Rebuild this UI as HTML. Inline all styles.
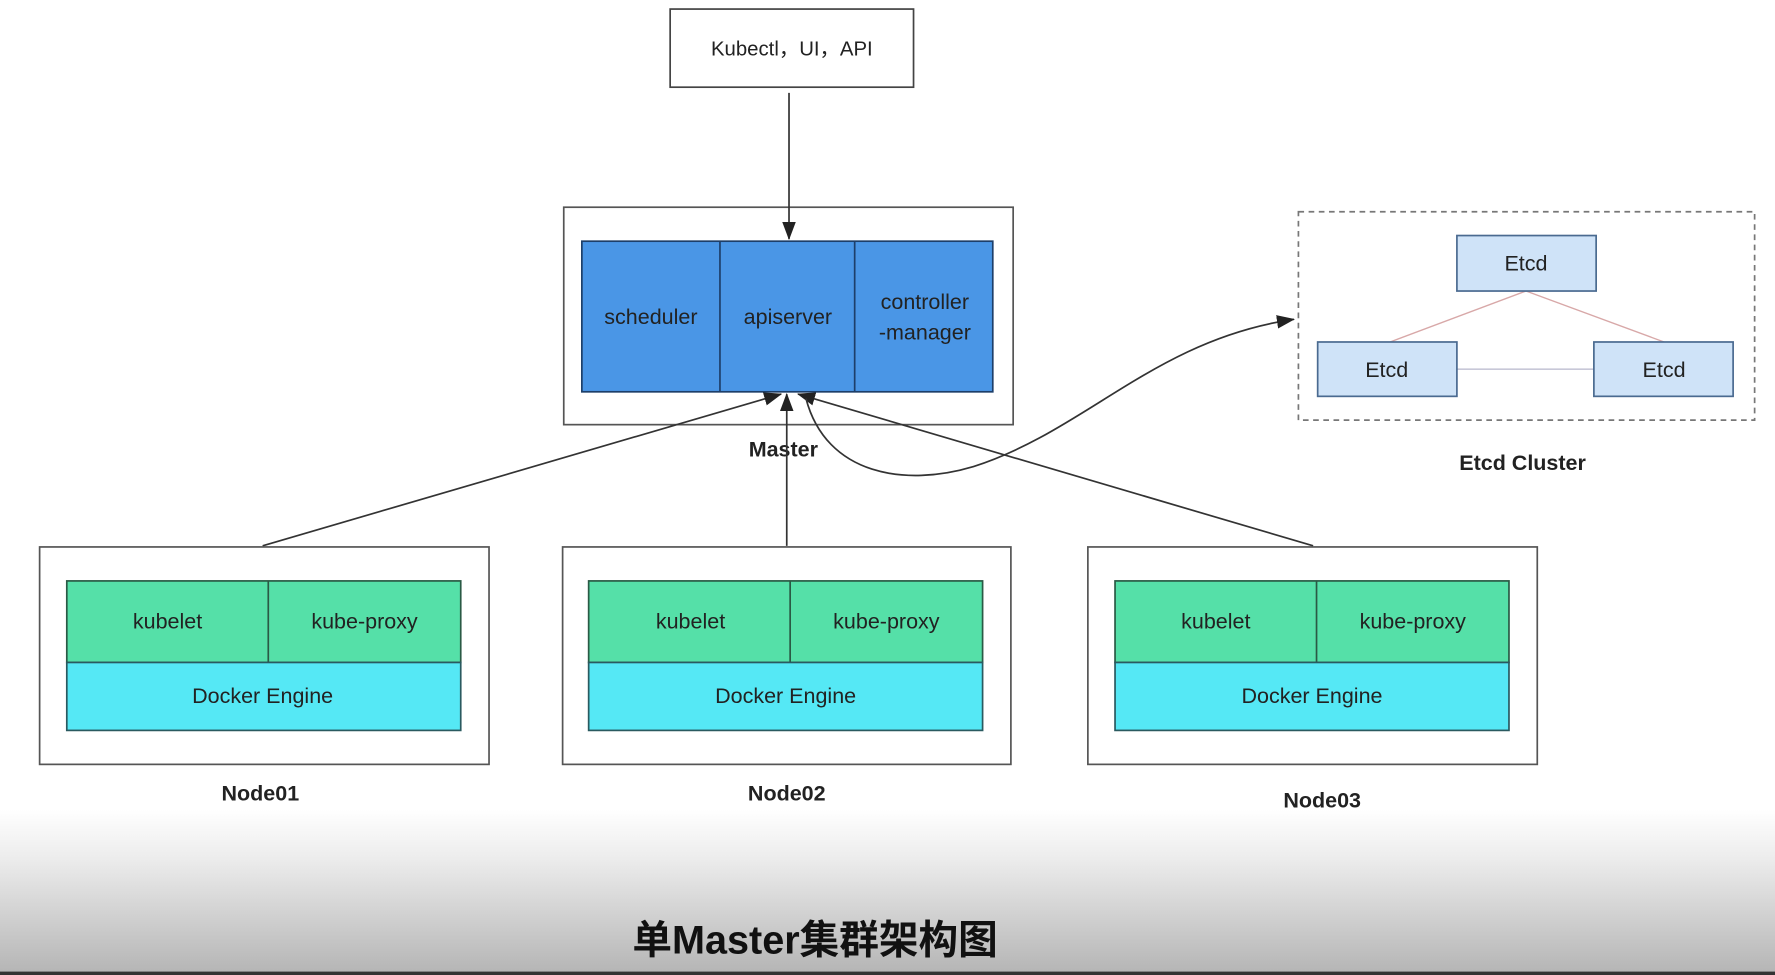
<!DOCTYPE html>
<html><head><meta charset="utf-8"><style>
html,body{margin:0;padding:0;background:#fff;}
svg{display:block;}
text{font-family:"Liberation Sans","Noto Sans CJK SC",sans-serif;fill:#222;}
</style></head><body>
<svg width="1775" height="975" viewBox="0 0 1568 861" preserveAspectRatio="none" xmlns="http://www.w3.org/2000/svg">
<defs>
<linearGradient id="bg" x1="0" y1="0" x2="0" y2="1">
<stop offset="0" stop-color="#ffffff"/>
<stop offset="0.3" stop-color="#ececec"/>
<stop offset="1" stop-color="#b4b4b4"/>
</linearGradient>
<marker id="ah2" markerWidth="16" markerHeight="12" refX="15" refY="6" orient="auto" markerUnits="userSpaceOnUse" viewBox="0 0 16 12">
<path d="M0,0 L16,6 L0,12 z" fill="#222"/>
</marker>
</defs>
<rect x="0" y="715" width="1568" height="146" fill="url(#bg)"/>
<rect x="0" y="858" width="1568" height="3" fill="#333"/>

<!-- top box -->
<rect x="592" y="8" width="215" height="69" fill="#fff" stroke="#444" stroke-width="1.5"/>
<text x="699.5" y="49" font-size="18" text-anchor="middle">Kubectl，UI，API</text>

<!-- master -->
<rect x="498" y="183" width="397" height="192" fill="#fff" stroke="#555" stroke-width="1.5"/>
<line x1="697" y1="82" x2="697" y2="211" stroke="#333" stroke-width="1.5" marker-end="url(#ah2)"/>
<rect x="514" y="213" width="363" height="133" fill="#4a96e6" stroke="#1d3f6a" stroke-width="1.5"/>
<line x1="636" y1="213" x2="636" y2="346" stroke="#1d3f6a" stroke-width="1.5"/>
<line x1="755" y1="213" x2="755" y2="346" stroke="#1d3f6a" stroke-width="1.5"/>
<text x="575" y="286" font-size="19" text-anchor="middle">scheduler</text>
<text x="696" y="286" font-size="19" text-anchor="middle">apiserver</text>
<text x="817" y="273" font-size="19" text-anchor="middle">controller</text>
<text x="817" y="300" font-size="19" text-anchor="middle">-manager</text>
<text x="692" y="403" font-size="19" font-weight="bold" text-anchor="middle">Master</text>

<!-- etcd -->
<rect x="1147" y="187" width="403" height="184" fill="#fff" stroke="#777" stroke-width="1.5" stroke-dasharray="5,4"/>
<line x1="1348" y1="257" x2="1228" y2="302" stroke="#d8a8a8" stroke-width="1.2"/>
<line x1="1348" y1="257" x2="1470" y2="302" stroke="#d8a8a8" stroke-width="1.2"/>
<line x1="1287" y1="326" x2="1408" y2="326" stroke="#c8c8d8" stroke-width="1.5"/>
<rect x="1287" y="208" width="123" height="49" fill="#cfe3f8" stroke="#4a6a90" stroke-width="1.5"/>
<rect x="1164" y="302" width="123" height="48" fill="#cfe3f8" stroke="#4a6a90" stroke-width="1.5"/>
<rect x="1408" y="302" width="123" height="48" fill="#cfe3f8" stroke="#4a6a90" stroke-width="1.5"/>
<text x="1348" y="239" font-size="19" text-anchor="middle">Etcd</text>
<text x="1225" y="333" font-size="19" text-anchor="middle">Etcd</text>
<text x="1470" y="333" font-size="19" text-anchor="middle">Etcd</text>
<text x="1345" y="415" font-size="19" font-weight="bold" text-anchor="middle">Etcd Cluster</text>

<!-- connectors -->
<line x1="232" y1="482" x2="690" y2="348" stroke="#333" stroke-width="1.5" marker-end="url(#ah2)"/>
<line x1="695" y1="482" x2="695" y2="348" stroke="#333" stroke-width="1.5" marker-end="url(#ah2)"/>
<line x1="1160" y1="482" x2="705" y2="348" stroke="#333" stroke-width="1.5" marker-end="url(#ah2)"/>
<path d="M712,352 C730,420 800,430 860,412 C960,380 1020,300 1143,282" fill="none" stroke="#333" stroke-width="1.5" marker-end="url(#ah2)"/>

<!-- nodes -->
<g>
<rect x="35" y="483" width="397" height="192" fill="#fff" stroke="#555" stroke-width="1.5"/>
<rect x="59" y="513" width="348" height="72" fill="#55e0a8" stroke="#2a5a45" stroke-width="1.5"/>
<line x1="237" y1="513" x2="237" y2="585" stroke="#2a5a45" stroke-width="1.5"/>
<rect x="59" y="585" width="348" height="60" fill="#55e8f5" stroke="#2a5a60" stroke-width="1.5"/>
<text x="148" y="555" font-size="19" text-anchor="middle">kubelet</text>
<text x="322" y="555" font-size="19" text-anchor="middle">kube-proxy</text>
<text x="232" y="621" font-size="19" text-anchor="middle">Docker Engine</text>
<text x="230" y="707" font-size="19" font-weight="bold" text-anchor="middle">Node01</text>
</g>
<g>
<rect x="497" y="483" width="396" height="192" fill="#fff" stroke="#555" stroke-width="1.5"/>
<rect x="520" y="513" width="348" height="72" fill="#55e0a8" stroke="#2a5a45" stroke-width="1.5"/>
<line x1="698" y1="513" x2="698" y2="585" stroke="#2a5a45" stroke-width="1.5"/>
<rect x="520" y="585" width="348" height="60" fill="#55e8f5" stroke="#2a5a60" stroke-width="1.5"/>
<text x="610" y="555" font-size="19" text-anchor="middle">kubelet</text>
<text x="783" y="555" font-size="19" text-anchor="middle">kube-proxy</text>
<text x="694" y="621" font-size="19" text-anchor="middle">Docker Engine</text>
<text x="695" y="707" font-size="19" font-weight="bold" text-anchor="middle">Node02</text>
</g>
<g>
<rect x="961" y="483" width="397" height="192" fill="#fff" stroke="#555" stroke-width="1.5"/>
<rect x="985" y="513" width="348" height="72" fill="#55e0a8" stroke="#2a5a45" stroke-width="1.5"/>
<line x1="1163" y1="513" x2="1163" y2="585" stroke="#2a5a45" stroke-width="1.5"/>
<rect x="985" y="585" width="348" height="60" fill="#55e8f5" stroke="#2a5a60" stroke-width="1.5"/>
<text x="1074" y="555" font-size="19" text-anchor="middle">kubelet</text>
<text x="1248" y="555" font-size="19" text-anchor="middle">kube-proxy</text>
<text x="1159" y="621" font-size="19" text-anchor="middle">Docker Engine</text>
<text x="1168" y="713" font-size="19" font-weight="bold" text-anchor="middle">Node03</text>
</g>

<text x="720" y="842" font-size="35" font-weight="bold" text-anchor="middle" style="fill:#111">单Master集群架构图</text>
</svg>
</body></html>
